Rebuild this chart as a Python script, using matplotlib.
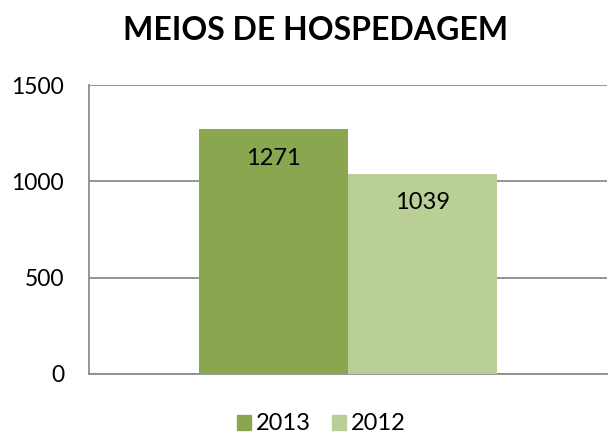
import matplotlib
matplotlib.use("Agg")
import matplotlib.pyplot as plt
from matplotlib.patches import Patch

plt.rcParams['font.family'] = ['Lato', 'DejaVu Sans']

title = "MEIOS DE HOSPEDAGEM"
series_names = ["2013", "2012"]
values = [1271, 1039]
colors = ["#8AA64F", "#BACF96"]
yticks = [0, 500, 1000, 1500]

fig = plt.figure(figsize=(6.08, 4.37), dpi=100)
W, H = 608, 437
ax = fig.add_axes([89 / W, 1 - 374 / H, (607 - 89) / W, (374 - 85) / H])

bw = 149 / 518
offsets = [-bw / 2, bw / 2]
for name, v, c, off in zip(series_names, values, colors, offsets):
    ax.bar(off, v, width=bw, color=c, zorder=3, label=name)
    ax.text(off, v - 29 * 1500 / 289, str(v), ha='center', va='center',
            fontsize=17, color='black', zorder=4)

ax.set_xlim(-0.5, 0.5)
ax.set_ylim(0, 1500)
ax.set_yticks(yticks)
ax.set_yticklabels([str(t) for t in yticks], fontsize=16.5)
ax.set_xticks([])
ax.tick_params(axis='y', length=0, pad=18)
ax.grid(axis='y', color='#8C8C8C', linewidth=1.3, zorder=1)
for s in ['top', 'right']:
    ax.spines[s].set_visible(False)
for s in ['left', 'bottom']:
    ax.spines[s].set_color('#8C8C8C')
    ax.spines[s].set_linewidth(1.3)

fig.text(316 / W, 1 - 31 / H, title, ha='center', va='center',
         fontsize=23, fontweight='bold')

handles = [Patch(color=c, label=n) for n, c in zip(series_names, colors)]
fig.legend(handles=handles, loc='center', bbox_to_anchor=(321 / W, 1 - 424 / H),
           ncol=2, frameon=False, fontsize=17, handlelength=0.6,
           handleheight=0.6, handletextpad=0.2, columnspacing=0.9,
           borderpad=0.1)

fig.savefig("out.png", dpi=100)
